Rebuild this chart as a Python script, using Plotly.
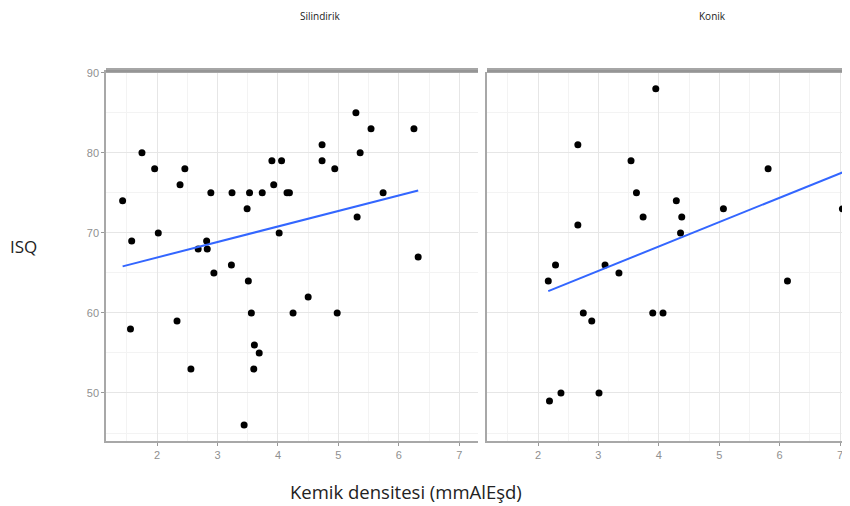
import numpy as np
import plotly.graph_objects as go

# ---- data ----
panel_titles = ["Silindirik", "Konik"]

sil_x = [1.43, 1.58, 1.75, 1.96, 2.02, 2.38, 2.46, 2.89, 2.68, 2.82, 2.83, 3.24, 3.49, 3.53, 3.74,
         3.90, 3.93, 4.06, 4.02, 4.15, 4.19, 4.73, 4.73, 4.94, 5.29, 5.36, 5.31, 5.54, 5.74, 6.25,
         6.32, 1.56, 2.33, 2.56, 2.94, 3.23, 3.51, 3.56, 4.25, 4.50, 4.98, 3.61, 3.69, 3.60, 3.44]
sil_y = [74, 69, 80, 78, 70, 76, 78, 75, 68, 69, 68, 75, 73, 75, 75,
         79, 76, 79, 70, 75, 75, 81, 79, 78, 85, 80, 72, 83, 75, 83,
         67, 58, 59, 53, 65, 66, 64, 60, 60, 62, 60, 56, 55, 53, 46]

kon_x = [3.95, 2.66, 3.54, 5.81, 3.63, 4.29, 3.74, 4.38, 5.07, 7.04, 2.66, 4.36,
         2.29, 2.17, 3.11, 3.34, 6.13, 2.75, 2.89, 3.90, 4.07, 2.19, 2.38, 3.01]
kon_y = [88, 81, 79, 78, 75, 74, 72, 72, 73, 73, 71, 70,
         66, 64, 66, 65, 64, 60, 59, 60, 60, 49, 50, 50]

x_ticks = [2, 3, 4, 5, 6, 7]
y_ticks = [50, 60, 70, 80, 90]

W, H = 850, 506
OFF = 8  # page body margin offset


def px_x(p):
    return (p - OFF) / W


def px_y(p):
    return 1 - (p - OFF) / H


fig = go.Figure()

for i, (xs, ys) in enumerate([(sil_x, sil_y), (kon_x, kon_y)]):
    xa = "x" if i == 0 else "x2"
    ya = "y" if i == 0 else "y2"
    fig.add_trace(go.Scatter(x=xs, y=ys, mode="markers", xaxis=xa, yaxis=ya,
                             marker=dict(color="black", size=7), showlegend=False,
                             cliponaxis=False, hoverinfo="x+y"))
    b, a = np.polyfit(xs, ys, 1)
    fx = np.linspace(min(xs), max(xs), 50)
    fig.add_trace(go.Scatter(x=fx, y=a + b * fx, mode="lines", xaxis=xa, yaxis=ya,
                             line=dict(color="#3366FF", width=2), showlegend=False,
                             hoverinfo="skip"))

grid_major = "#e6e6e6"
grid_minor = "#f3f3f3"
line_col = "#a8a8a8"
tick_font = dict(family="Liberation Sans Narrow, Liberation Sans, Arial", size=11, color="#8f8f8f")

common_x = dict(tickvals=x_ticks, showgrid=True, gridcolor=grid_major, gridwidth=1,
                minor=dict(dtick=0.5, tick0=0, showgrid=True, gridcolor=grid_minor, gridwidth=1),
                showline=True, linecolor=line_col, linewidth=1.5,
                ticks="outside", ticklen=3, tickcolor="#999999", tickfont=tick_font,
                zeroline=False, automargin=False)
common_y = dict(tickvals=y_ticks, range=[44.0, 90.1], showgrid=True, gridcolor=grid_major,
                minor=dict(dtick=5, tick0=0, showgrid=True, gridcolor=grid_minor, gridwidth=1),
                showline=True, linecolor=line_col, linewidth=1.5,
                tickcolor="#999999", tickfont=tick_font,
                zeroline=False, automargin=False)

y_dom = [px_y(441), px_y(72)]

# right panel: from page px 487 to the end of the figure (page px 858)
x2_lo = 2 + (487 - 538) / 60.4
x2_hi = 2 + (858 - 538) / 60.4

fig.update_layout(
    width=W, height=H,
    margin=dict(l=0, r=0, t=0, b=0, autoexpand=False),
    paper_bgcolor="white", plot_bgcolor="white",
    xaxis=dict(domain=[px_x(106), px_x(478)], range=[1.155, 7.31], anchor="y", mirror=True,
               **common_x),
    xaxis2=dict(domain=[px_x(487), 1.0], range=[x2_lo, x2_hi], anchor="y2", **common_x),
    yaxis=dict(domain=y_dom, anchor="x", ticks="outside", ticklen=3, **common_y),
    yaxis2=dict(domain=y_dom, anchor="x2", showticklabels=False, ticks="", **common_y),
)

# top gray strips
for x0, x1 in [(106, 478), (487, 858)]:
    fig.add_shape(type="rect", xref="paper", yref="paper",
                  x0=px_x(x0), x1=px_x(x1), y0=px_y(73), y1=px_y(68),
                  fillcolor="#a6a6a6", line=dict(width=0), layer="above")
    fig.add_shape(type="line", xref="paper", yref="paper",
                  x0=px_x(x0), x1=px_x(x1), y0=px_y(71), y1=px_y(71),
                  line=dict(color="#8f8f8f", width=1.5), layer="above")

title_font = dict(family="Open Sans, Lato, Liberation Sans", color="#222222")


def label(text, x, y, size, yanchor="middle"):
    fig.add_annotation(text=text, x=px_x(x), y=px_y(y), xref="paper", yref="paper",
                       xanchor="center", yanchor=yanchor, showarrow=False, borderpad=0,
                       font=dict(size=size, **title_font))


label(panel_titles[0], 320, 8, 10, yanchor="top")
label(panel_titles[1], 712, 8, 10, yanchor="top")
label("ISQ", 23, 247, 17)
label("Kemik densitesi (mmAlEşd)", 406, 491, 18.5)

fig.write_html("out.html")
